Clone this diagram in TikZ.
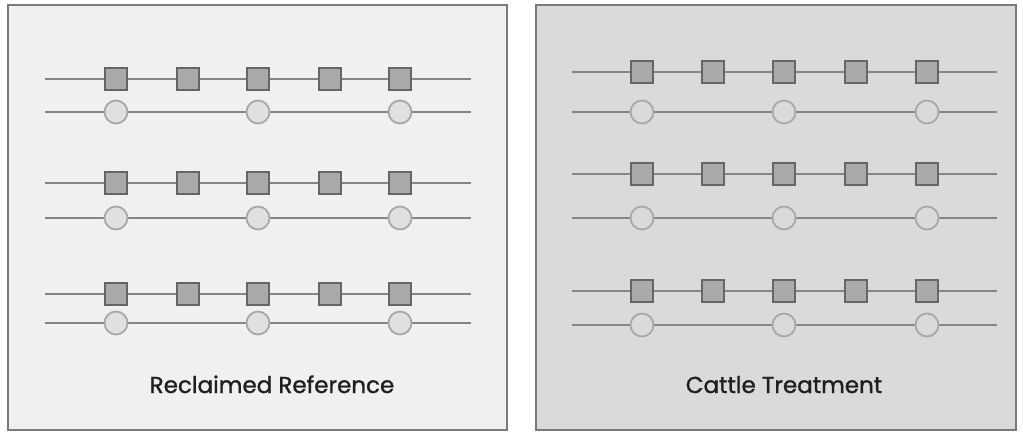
\documentclass[tikz,border=0pt]{standalone}
\usepackage{fontspec}
\setmainfont{Poppins}
\newfontfamily\labelfont[FakeBold=1.2]{Poppins}
\usetikzlibrary{backgrounds}
\definecolor{bgL}{HTML}{F0F0F0}
\definecolor{bgR}{HTML}{DADADA}
\definecolor{frame}{HTML}{7A7A7A}
\definecolor{wire}{HTML}{858585}
\definecolor{sqfill}{HTML}{AAAAAA}
\definecolor{sqdraw}{HTML}{666666}
\definecolor{cdraw}{HTML}{A8A8A8}
\definecolor{cfillL}{HTML}{E0E0E0}
\tikzset{
  panel/.style={draw=frame, line width=2pt},
  wireline/.style={draw=wire, line width=2.6pt},
  sq/.style={draw=sqdraw, fill=sqfill, line width=1.8pt, minimum size=22.5pt, inner sep=0pt, rectangle},
  circ/.style={draw=cdraw, line width=1.8pt, minimum size=23pt, inner sep=0pt, circle},
  label/.style={font=\labelfont\fontsize{23pt}{26pt}\selectfont, text=black!88, anchor=base},
}
\begin{document}
\begin{tikzpicture}[x=1pt,y=-1pt]
\useasboundingbox (0,0) rectangle (1023,432);
\fill[white] (0,0) rectangle (1023,432);
% panels
\draw[panel, fill=bgL] (8,5) rectangle (507,430);
\draw[panel, fill=bgR] (536,5) rectangle (1016,430);
% left panel rows
\foreach \r/\sy/\cy in {1/79/112, 2/183/218, 3/294/323} {
  \coordinate (Lsa\r) at (45,\sy);
  \coordinate (Lsb\r) at (471,\sy);
  \coordinate (Lca\r) at (45,\cy);
  \coordinate (Lcb\r) at (471,\cy);
  \draw[wireline] (Lsa\r) -- (Lsb\r);
  \draw[wireline] (Lca\r) -- (Lcb\r);
  \foreach \i/\x in {1/116, 2/188, 3/258, 4/330, 5/400}
    \node[sq] (Ls\r-\i) at (\x,\sy) {};
  \foreach \i/\x in {1/116, 3/258, 5/400}
    \node[circ, fill=cfillL] (Lc\r-\i) at (\x,\cy) {};
}
% right panel rows
\foreach \r/\sy/\cy in {1/72/112, 2/174/218, 3/291/325} {
  \coordinate (Rsa\r) at (572,\sy);
  \coordinate (Rsb\r) at (997,\sy);
  \coordinate (Rca\r) at (572,\cy);
  \coordinate (Rcb\r) at (997,\cy);
  \draw[wireline] (Rsa\r) -- (Rsb\r);
  \draw[wireline] (Rca\r) -- (Rcb\r);
  \foreach \i/\x in {1/642, 2/713, 3/784, 4/856, 5/927}
    \node[sq] (Rs\r-\i) at (\x,\sy) {};
  \foreach \i/\x in {1/642, 3/784, 5/927}
    \node[circ, fill=bgR] (Rc\r-\i) at (\x,\cy) {};
}
\node[label] (tl) at (272,393) {Reclaimed Reference};
\node[label] (tr) at (784,393) {Cattle Treatment};
\end{tikzpicture}
\end{document}
